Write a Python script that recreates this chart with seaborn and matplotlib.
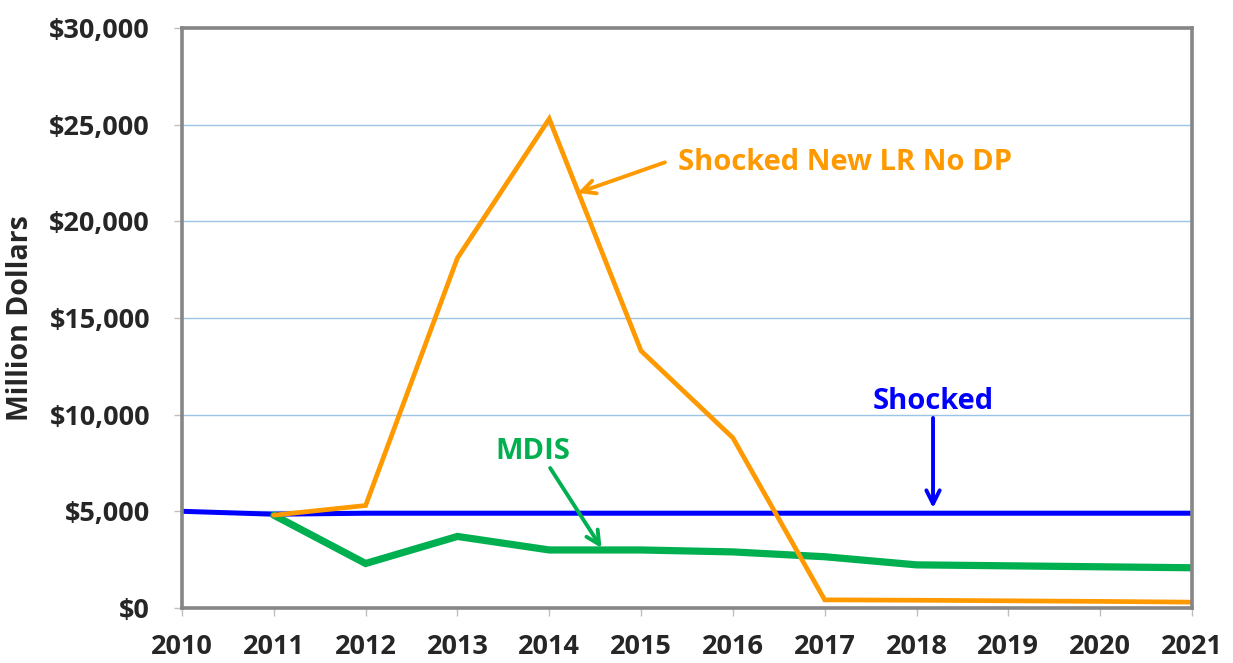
import matplotlib
matplotlib.use("Agg")
import matplotlib.pyplot as plt
import seaborn as sns
import pandas as pd
from matplotlib.ticker import FuncFormatter

years = list(range(2010, 2022))
shocked = [5000, 4850, 4900, 4900, 4900, 4900, 4900, 4900, 4900, 4900, 4900, 4900]
shocked_new_lr = [None, 4800, 5300, 18100, 25300, 13300, 8800, 420, 400, 370, 340, 300]
mdis = [None, 4800, 2300, 3700, 3000, 3000, 2900, 2650, 2230, 2180, 2130, 2080]

series_names = ["Shocked New LR No DP", "Shocked", "MDIS"]
series_values = [shocked_new_lr, shocked, mdis]
colors = {"Shocked New LR No DP": "#FF9900", "Shocked": "#0000FF", "MDIS": "#00B050"}
widths = {"Shocked New LR No DP": 3.4, "Shocked": 3.6, "MDIS": 5.2}

rows = []
for name, vals in zip(series_names, series_values):
    for yr, v in zip(years, vals):
        if v is not None:
            rows.append({"Year": yr, "Value": v, "Series": name})
df = pd.DataFrame(rows)

sns.set_theme(style="white")
plt.rcParams["font.family"] = ["Open Sans", "DejaVu Sans"]
plt.rcParams["font.weight"] = "bold"

fig = plt.figure(figsize=(12.33, 6.63), dpi=100)
ax = fig.add_axes([0.1476, 0.083, 0.8191, 0.8748])

for name in ["Shocked", "MDIS", "Shocked New LR No DP"]:
    sns.lineplot(data=df[df["Series"] == name], x="Year", y="Value", ax=ax,
                 color=colors[name], linewidth=widths[name], legend=False,
                 solid_joinstyle="miter")

ax.set_xlim(2010, 2021)
ax.set_ylim(0, 30000)
ax.set_xticks(years)
ax.set_yticks(range(0, 30001, 5000))
ax.yaxis.set_major_formatter(FuncFormatter(lambda v, p: f"${int(v):,}"))
ax.tick_params(axis="both", which="major", labelsize=19.5, length=6, width=1,
               color="#BFBFBF", direction="out", left=True, bottom=True)
ax.tick_params(axis="y", pad=17)
ax.tick_params(axis="x", pad=13)
for lab in ax.get_xticklabels() + ax.get_yticklabels():
    lab.set_fontweight("bold")

ax.grid(axis="y", color="#9DC3E6", linewidth=1)
ax.set_axisbelow(True)
for s in ax.spines.values():
    s.set_color("#868686")
    s.set_linewidth(2.6)

ax.set_xlabel("")
ax.set_ylabel("Million Dollars", fontsize=20.5, fontweight="bold", labelpad=10)

# Series labels with pointer arrows
labels = [
    # name, text position, ha, arrow tail, arrow head
    ("Shocked New LR No DP", (2015.40, 23050), "left", (2015.26, 23050), (2014.31, 21470)),
    ("Shocked", (2018.18, 10700), "center", (2018.18, 9830), (2018.18, 5170)),
    ("MDIS", (2013.82, 8100), "center", (2014.01, 7240), (2014.57, 3100)),
]
for name, pos, ha, tail, head in labels:
    ax.text(pos[0], pos[1], name, color=colors[name], fontsize=21,
            fontweight="bold", ha=ha, va="center")
    ax.annotate("", xy=head, xytext=tail,
                arrowprops=dict(arrowstyle="->", color=colors[name], lw=2.8,
                                mutation_scale=24, shrinkA=0, shrinkB=0))

fig.savefig("out.png", dpi=100)
